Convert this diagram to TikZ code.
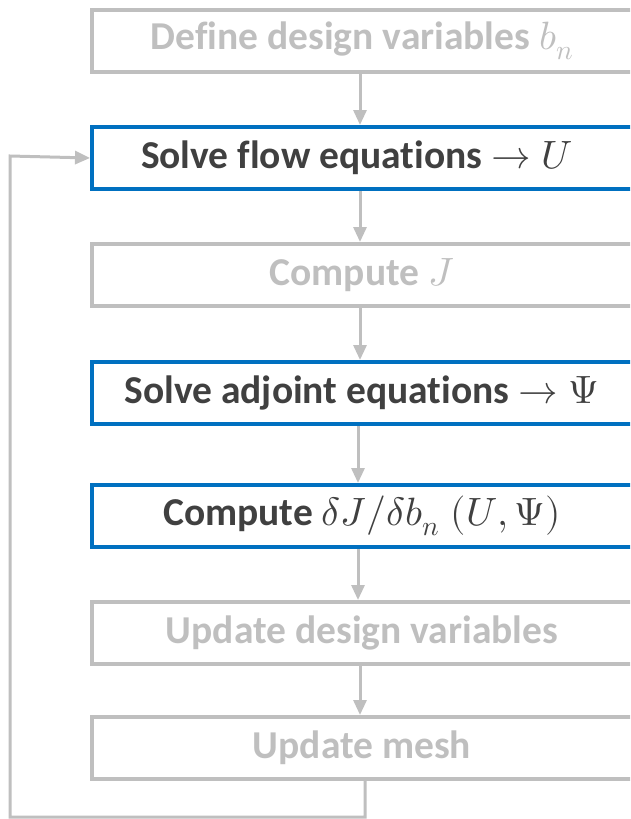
\documentclass[tikz,border=0pt]{standalone}
\usepackage{fontspec}
\usepackage{unicode-math}
\setmainfont{Carlito}[Ligatures=NoCommon]
\setmathfont{Latin Modern Math}
\usetikzlibrary{arrows.meta}
\definecolor{lgrey}{HTML}{BFBFBF}
\definecolor{dblue}{HTML}{0070C0}
\definecolor{dtext}{HTML}{404040}
\tikzset{
  basebox/.style={draw, line width=4pt, minimum width=546pt, minimum height=62pt, anchor=north west, inner sep=0pt, font=\fontsize{39.5}{42}\selectfont\bfseries},
  greybox/.style={basebox, draw=lgrey, text=lgrey},
  bluebox/.style={basebox, draw=dblue, text=dtext},
  arr/.style={draw=lgrey, line width=3pt, -{Triangle[length=15pt,width=13pt]}},
}
\begin{document}
\begin{tikzpicture}[x=1pt,y=-1pt]
\useasboundingbox (0,0) rectangle (630,819);
\clip (0,0) rectangle (630,819);
\node[greybox] (b1) at (90,8) {\hspace*{-6pt}Define design variables $b_n$};
\node[bluebox] (b2) at (90,125) {\hspace*{-16pt}Solve flow equations $\rightarrow U$};
\node[greybox] (b3) at (90,242) {\hspace*{-6pt}Compute $J$};
\node[bluebox] (b4) at (90,360) {\hspace*{-6pt}Solve adjoint equations $\rightarrow \Psi$};
\node[bluebox] (b5) at (90,483) {\hspace*{-6pt}Compute $\delta J/\delta b_n\;(U,\Psi)$};
\node[greybox] (b6) at (90,600) {\hspace*{-6pt}Update design variables};
\node[greybox] (b7) at (90,715) {\hspace*{-6pt}Update mesh};
\coordinate (c1) at (365,817);
\coordinate (c2) at (10,817);
\coordinate (c3) at (10,156);
\draw[arr] (b1.south -| 360,0) -- (b2.north -| 360,0);
\draw[arr] (b2.south -| 360,0) -- (b3.north -| 360,0);
\draw[arr] (b3.south -| 360,0) -- (b4.north -| 360,0);
\draw[arr] (b4.south -| 358,0) -- (b5.north -| 358,0);
\draw[arr] (b5.south -| 358,0) -- (b6.north -| 358,0);
\draw[arr] (b6.south -| 360,0) -- (b7.north -| 360,0);
\draw[arr] (b7.south -| 365,0) -- (c1) -- (c2) -- (c3) -- (b2.west);
\end{tikzpicture}
\end{document}
